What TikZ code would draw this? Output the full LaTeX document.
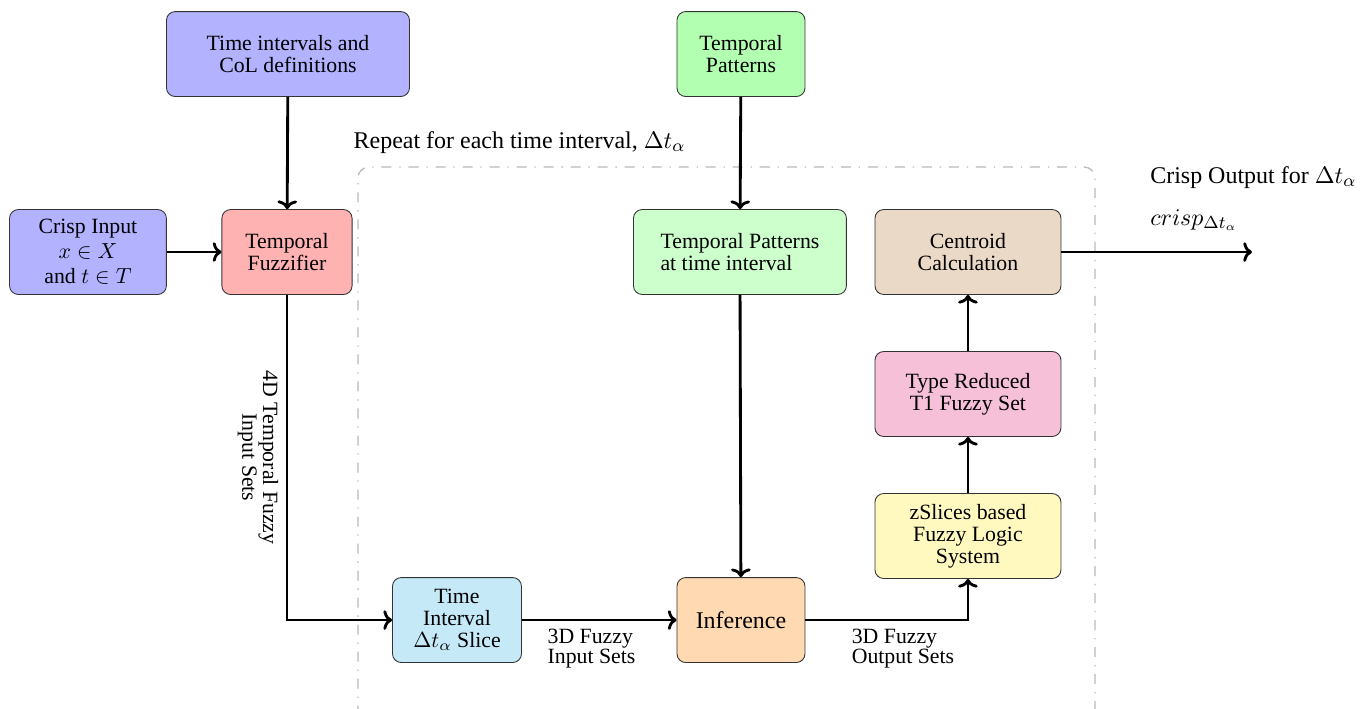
\documentclass[tikz,border=0pt]{standalone}
\usepackage[no-math]{fontspec}
\setmainfont{Liberation Serif}
\usetikzlibrary{arrows.meta}

\definecolor{boxbrown}{RGB}{234,217,198}
\definecolor{boxpink}{RGB}{246,192,217}
\definecolor{boxyellow}{RGB}{255,249,192}
\definecolor{boxcyan}{RGB}{198,233,248}

\begin{document}
\begin{tikzpicture}[
    box/.style={draw=black!80, rounded corners=4pt, minimum height=1.37cm, align=center,
        inner sep=2pt, font=\fontsize{10}{10}\selectfont},
    link/.style={-{To[length=4pt, width=9pt]}, line width=1.3pt},
    lbl/.style={font=\fontsize{10}{9.5}\selectfont, align=left},
    biglbl/.style={font=\fontsize{11}{13}\selectfont}
]
    \useasboundingbox (0, 0) rectangle (22.13, 11.42);

    \draw[gray!55, semithick, dash pattern=on 4.6pt off 3.6pt on 0.6pt off 3.6pt, rounded corners=5pt]
        (5.774, -0.3) rectangle (17.661, 8.726);
    \node[biglbl, anchor=base west] (repeat) at (5.58, 9.03) {Repeat for each time interval, $\Delta t_\alpha$};

    \node[box, fill=blue!30, minimum width=3.92cm] (tidef) at (4.645, 10.548) {Time intervals and\\CoL definitions};
    \node[box, fill=green!30, minimum width=2.065cm] (tpat) at (11.952, 10.548) {Temporal\\Patterns};
    \node[box, fill=blue!30, minimum width=2.53cm, font=\fontsize{10}{11.5}\selectfont] (crisp) at (1.419, 7.355) {Crisp Input\\$x \in X$\\and $t \in T$};
    \node[box, fill=red!30, minimum width=2.10cm] (fuzz) at (4.629, 7.355) {Temporal\\Fuzzifier};
    \node[box, fill=green!20, minimum width=3.435cm, align=left] (tpati) at (11.935, 7.355) {Temporal Patterns\\at time interval};
    \node[box, fill=boxbrown, minimum width=3cm] (cent) at (15.613, 7.355) {Centroid\\Calculation};
    \node[box, fill=boxpink, minimum width=3cm] (tred) at (15.613, 5.065) {Type Reduced\\T1 Fuzzy Set};
    \node[box, fill=boxyellow, minimum width=3cm] (zsl) at (15.613, 2.774) {zSlices based\\Fuzzy Logic\\System};
    \node[box, fill=boxcyan, minimum width=2.08cm] (slice) at (7.371, 1.419) {Time\\Interval\\$\Delta t_\alpha$ Slice};
    \node[box, fill=orange!30, minimum width=2.065cm, font=\fontsize{11}{13}\selectfont] (infer) at (11.952, 1.419) {Inference};

    \coordinate (out) at (20.194, 7.355);
    \node[biglbl, anchor=base west] (outlbl) at (18.43, 8.468) {Crisp Output for $\Delta t_\alpha$};
    \node[biglbl, anchor=base west] (outval) at (18.43, 7.79) {$crisp_{\Delta t_\alpha}$};

    \draw[link] (tidef) -- (fuzz);
    \draw[link] (crisp) -- (fuzz);
    \draw[link] (tpat) -- (tpati);
    \draw[link] (tpati) -- (infer);
    \draw[link] (fuzz.south) |- node[pos=0.25, rotate=-90, anchor=north, lbl, align=center] (lbl4d) {4D Temporal Fuzzy\\Input Sets} (slice.west);
    \draw[link] (slice) -- node[pos=0.45, below, lbl] (lblin) {3D Fuzzy\\Input Sets} (infer);
    \draw[link] (infer.east) -| node[pos=0.3, below, lbl] (lblout) {3D Fuzzy\\Output Sets} (zsl.south);
    \draw[link] (zsl) -- (tred);
    \draw[link] (tred) -- (cent);
    \draw[link] (cent) -- (out);
\end{tikzpicture}
\end{document}
